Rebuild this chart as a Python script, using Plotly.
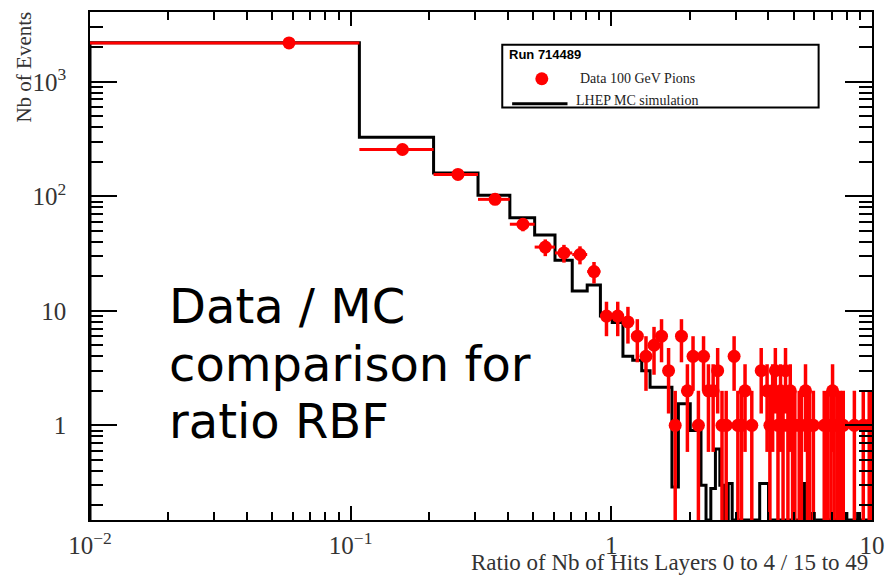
import numpy as np
import plotly.graph_objects as go

# ---------------- data ----------------
bin_low_edge = 0.008
bin_width = 0.1
n_bins = 100

data_counts = [2184, 256, 155, 94, 57, 36, 32, 31, 22, 9,
               9, 8, 6, 4, 5, 6, 3, 1, 6, 2,
               4, 1, 4, 2, 2, 3, 1, 1, 0, 4,
               1, 1, 2, 0, 1, 0, 0, 3, 0, 2,
               1, 2, 3, 1, 2, 1, 3, 1, 2, 1,
               1, 0, 1, 1, 0, 2, 1, 1, 0, 1,
               0, 0, 0, 0, 0, 1, 0, 1, 0, 1,
               2, 1, 0, 1, 0, 1, 0, 1, 0, 0,
               0, 0, 0, 0, 0, 1, 0, 0, 0, 0,
               0, 0, 1, 0, 0, 0, 0, 1, 0, 1]

mc_counts = [2190, 328, 160, 102, 64.8, 45.8, 27.6, 14.9, 16.8, 9.0,
             7.9, 4.0, 3.7, 3.0, 2.15, 2.15, 2.15, 0.29, 1.54, 1.54,
             0.9, 0.9, 0.3, 0, 0.28, 0.62, 0.3, 0, 0.31, 0,
             0, 0, 0, 0, 0, 0, 0, 0.31, 0.31, 0.31,
             0, 0, 0, 0, 0, 0, 0, 0, 0, 0,
             0, 0, 0, 0, 0.31, 0, 0, 0, 0, 0.17,
             0, 0, 0, 0, 0, 0, 0, 0, 0, 0,
             0, 0, 0, 0, 0, 0, 0, 0, 0, 0.17,
             0, 0, 0, 0, 0, 0, 0, 0, 0.17, 0,
             0, 0, 0, 0, 0, 0, 0, 0, 0, 0]

x_range = [0.01, 10.0]
y_range = [0.149, 4065.0]

run_label = "Run 714489"
data_label = "Data 100 GeV Pions"
mc_label = "LHEP MC simulation"
x_title = "Ratio of Nb of Hits Layers 0 to 4 / 15 to 49"
y_title = "Nb of Events"
big_text = ["Data / MC", "comparison for", "ratio RBF"]

# ---------------- derived ----------------
edges = bin_low_edge + bin_width * np.arange(n_bins + 1)
centers = edges[:-1] + bin_width / 2
ymin, ymax = y_range
data = np.array(data_counts, dtype=float)
mc = np.array(mc_counts, dtype=float)

# MC step outline (ROOT style: zero bins lie on the frame bottom)
mc_plot = np.where(mc > 0, mc, ymin)
sx = [max(edges[0], x_range[0])]
sy = [ymin]
for i in range(n_bins):
    sx += [max(edges[i], x_range[0]), edges[i + 1]]
    sy += [mc_plot[i], mc_plot[i]]
sx.append(edges[-1])
sy.append(ymin)

mask = data > 0
dc = centers[mask]
dv = data[mask]
err = np.sqrt(dv)
low = np.maximum(dv - err, ymin * 0.3)
err_minus = dv - low

fig = go.Figure()
fig.add_trace(go.Scatter(x=sx, y=sy, mode="lines",
                         line=dict(color="black", width=3),
                         hoverinfo="skip", name=mc_label))
fig.add_trace(go.Scatter(
    x=dc, y=dv, mode="markers", name=data_label,
    marker=dict(color="#ff0000", size=13, line=dict(width=0)),
    error_y=dict(type="data", symmetric=False, array=err, arrayminus=err_minus,
                 color="#ff0000", thickness=3.5, width=0),
    error_x=dict(type="data", symmetric=False,
                 array=edges[1:][mask] - dc, arrayminus=dc - edges[:-1][mask],
                 color="#ff0000", thickness=3, width=0),
))

# ---------------- layout helpers ----------------
W, H = 895, 576
L, R, T, B = 90, 14, 10, 56
PW, PH = W - L - R, H - T - B


def px(x):
    return (x - L) / PW


def py(y):
    return (H - B - y) / PH


serif = "Liberation Serif, Times New Roman, serif"
tick_font = dict(family=serif, size=20, color="#333333")

fig.update_layout(
    width=W, height=H,
    margin=dict(l=L, r=R, t=T, b=B, pad=0),
    paper_bgcolor="white", plot_bgcolor="white",
    showlegend=False,
    xaxis=dict(type="log", range=[np.log10(x_range[0]), np.log10(x_range[1])],
               showgrid=False, zeroline=False, showline=True, linecolor="black",
               linewidth=2, mirror="allticks", ticks="inside", ticklen=14,
               tickwidth=1.5, tickcolor="black", dtick=1, exponentformat="power",
               tickfont=tick_font, ticklabelstandoff=3,
               minor=dict(ticks="inside", ticklen=8, tickwidth=1.5,
                          tickcolor="black", dtick="D1", showgrid=False)),
    yaxis=dict(type="log", range=[np.log10(ymin), np.log10(ymax)],
               showgrid=False, zeroline=False, showline=True, linecolor="black",
               linewidth=1.5, mirror="allticks", ticks="inside", ticklen=27,
               tickwidth=1.5, tickcolor="black", dtick=1, exponentformat="power",
               tickfont=tick_font, ticklabelstandoff=18,
               minor=dict(ticks="inside", ticklen=13, tickwidth=1.5,
                          tickcolor="black", dtick="D1", showgrid=False)),
)

annotations = [
    dict(text=y_title, x=px(23), y=py(65), textangle=-90, showarrow=False,
         xanchor="center", yanchor="middle",
         font=dict(family=serif, size=21, color="#333333")),
    dict(text=x_title, x=px(879), y=py(563), showarrow=False,
         xanchor="right", yanchor="middle",
         font=dict(family=serif, size=23, color="#333333")),
    dict(text=run_label, x=px(512), y=py(53), showarrow=False,
         xanchor="left", yanchor="middle",
         font=dict(family="Liberation Sans, Arial, sans-serif", size=13, color="black", weight="bold")),
    dict(text=data_label, x=px(584), y=py(77), showarrow=False,
         xanchor="left", yanchor="middle",
         font=dict(family=serif, size=14, color="#222222")),
    dict(text=mc_label, x=px(580), y=py(99), showarrow=False,
         xanchor="left", yanchor="middle",
         font=dict(family=serif, size=14, color="#222222")),
]
big_centers = [305, 363, 421]
for line, yc in zip(big_text, big_centers):
    annotations.append(dict(text=line, x=px(168), y=py(yc), showarrow=False,
                            xanchor="left", yanchor="middle",
                            font=dict(family="DejaVu Sans", size=48, color="black")))
for a in annotations:
    a.update(xref="paper", yref="paper")
fig.update_layout(annotations=annotations)

shapes = [
    dict(type="rect", xref="paper", yref="paper", x0=px(507), x1=px(827),
         y0=py(106), y1=py(43), line=dict(color="black", width=2), fillcolor="white",
         layer="above"),
    dict(type="circle", xref="paper", yref="paper", xsizemode="pixel", ysizemode="pixel",
         xanchor=px(547), yanchor=py(77), x0=-6.5, x1=6.5, y0=-6.5, y1=6.5,
         fillcolor="#ff0000", line=dict(width=0), layer="above"),
    dict(type="line", xref="paper", yref="paper", x0=px(517), x1=px(573),
         y0=py(102), y1=py(102), line=dict(color="black", width=3), layer="above"),
]
fig.update_layout(shapes=shapes)

fig.write_html("out.html")
